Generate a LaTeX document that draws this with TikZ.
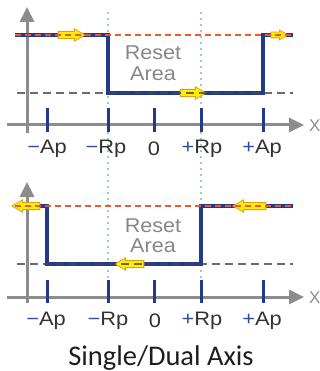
\documentclass[tikz,border=0pt]{standalone}
\usepackage{fontspec}
\setmainfont{Liberation Sans}
\newfontfamily\lblfont[FakeStretch=1.12]{Liberation Sans}
\newfontfamily\rstfont[FakeStretch=1.08]{Liberation Sans}
\newfontfamily\capfont{Carlito}
\usetikzlibrary{shapes.arrows,arrows.meta}
\definecolor{navy}{RGB}{35,58,140}
\definecolor{redd}{RGB}{236,88,48}
\definecolor{darkd}{RGB}{70,70,70}
\definecolor{greend}{RGB}{40,160,130}
\definecolor{axisg}{RGB}{140,140,140}
\definecolor{txtg}{RGB}{135,135,135}
\definecolor{ylw}{RGB}{255,238,0}
\definecolor{ylwb}{RGB}{225,160,20}
\definecolor{lblc}{RGB}{50,50,50}
\definecolor{signc}{RGB}{45,75,160}
\tikzset{
  axisline/.style={draw=axisg, line width=3pt, -{Triangle[length=15pt,width=14pt]}},
  signal/.style={draw=navy, line width=3.3pt, line join=miter},
  reddash/.style={draw=redd, line width=1.5pt, dash pattern=on 6pt off 4pt},
  blkdash/.style={draw=darkd, line width=1.5pt, dash pattern=on 8pt off 5pt},
  grdot/.style={draw=greend, line width=1.8pt, line cap=round, dash pattern=on 0pt off 6pt},
  tickmark/.style={draw=navy, line width=3pt},
  yarrow/.style={single arrow, draw=ylwb, fill=ylw, line width=0.8pt,
    inner xsep=0pt, inner ysep=3.2pt, single arrow head extend=2.6pt,
    single arrow tip angle=60, outer sep=0pt},
  ticklbl/.style={anchor=base, inner sep=0pt, text=lblc, font=\lblfont\fontsize{19.5}{20}\selectfont},
  rsttxt/.style={anchor=base, inner sep=0pt, text=txtg, font=\rstfont\fontsize{20}{21}\selectfont},
  xlbl/.style={anchor=west, inner sep=0pt, text=axisg, font=\fontsize{17}{17}\selectfont},
}
\newcommand{\mn}{{\color{signc}−}}
\newcommand{\pl}{{\color{signc}+}}
\begin{document}
\begin{tikzpicture}[x=1pt,y=-1pt]
\useasboundingbox (0,0) rectangle (320,371);
% ---------- green dotted guides ----------
\draw[grdot] (108,13) -- (108,292);
\draw[grdot] (201,13) -- (201,292);
% ---------- top panel ----------
\draw[axisline] (27,133) -- (27,7);
\draw[axisline] (7,125) -- (304,125);
\node[xlbl] (xA) at (309,126) {X};
\draw[signal] (15,35) -- (108,35) -- (108,93) -- (263,93) -- (263,35) -- (293,35);
\node[yarrow, minimum height=27pt] (a1) at (68.5,35) {};
\node[yarrow, minimum height=26pt] (a2) at (190,93) {};
\node[yarrow, minimum height=17pt, inner ysep=2.5pt, single arrow head extend=2pt] (a3) at (277,35) {};
\draw[reddash] (15,35) -- (293,35);
\draw[blkdash, draw opacity=0.8] (17,93) -- (293,93);
\foreach \p in {47,108,154,201,263} \draw[tickmark] (\p,108) -- (\p,132);
\node[rsttxt] (rs1) at (153,60) {Reset};
\node[rsttxt] (ar1) at (153,80.5) {Area};
\node[ticklbl] (l1) at (47,154) {\mn Ap};
\node[ticklbl] (l2) at (106,154) {\mn Rp};
\node[ticklbl] (l3) at (154,156) {0};
\node[ticklbl] (l4) at (202,154) {\pl Rp};
\node[ticklbl] (l5) at (262,154) {\pl Ap};
% ---------- bottom panel ----------
\draw[axisline] (27,303) -- (27,182);
\draw[axisline] (7,297) -- (304,297);
\node[xlbl] (xB) at (309,298) {X};
\draw[signal] (15,206) -- (47,206) -- (47,264) -- (201,264) -- (201,206) -- (293,206);
\node[yarrow, shape border rotate=180, minimum height=28pt] (b1) at (29,206) {};
\node[yarrow, shape border rotate=180, minimum height=29pt] (b2) at (132.5,264) {};
\node[yarrow, shape border rotate=180, minimum height=33pt] (b3) at (252.5,206) {};
\draw[reddash] (15,206) -- (293,206);
\draw[blkdash, draw opacity=0.8] (17,264) -- (293,264);
\foreach \p in {47,108,154,201,263} \draw[tickmark] (\p,280) -- (\p,303);
\node[rsttxt] (rs2) at (153,232) {Reset};
\node[rsttxt] (ar2) at (153,252.5) {Area};
\node[ticklbl] (m1) at (46,325) {\mn Ap};
\node[ticklbl] (m2) at (108,325) {\mn Rp};
\node[ticklbl] (m3) at (155,327) {0};
\node[ticklbl] (m4) at (202,325) {\pl Rp};
\node[ticklbl] (m5) at (262,325) {\pl Ap};
% ---------- caption ----------
\node[anchor=base, inner sep=0pt, text={rgb,255:red,30;green,30;blue,30}, font=\capfont\fontsize{28.5}{30}\selectfont] (cap) at (161,365) {Single/Dual Axis};
\end{tikzpicture}
\end{document}
